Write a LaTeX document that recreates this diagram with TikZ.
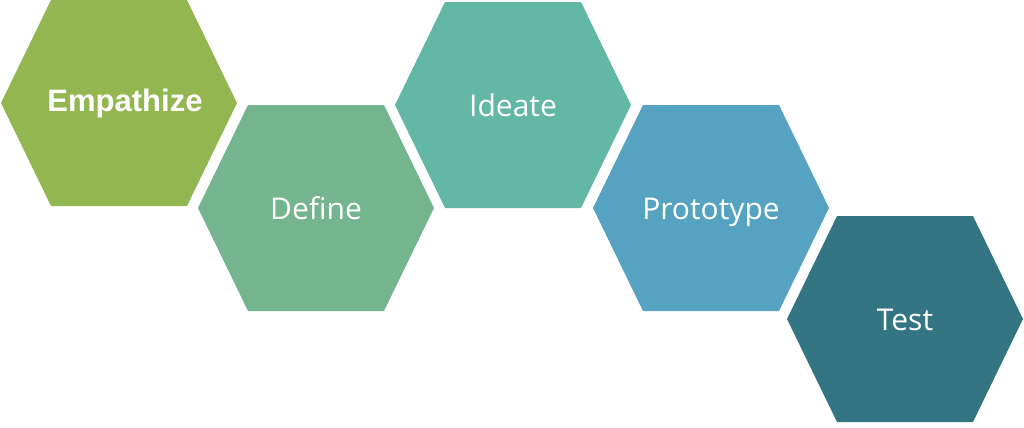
\documentclass[tikz,border=0pt]{standalone}
\usepackage{fontspec}
\setmainfont{Open Sans}
\newfontfamily\empfont{Liberation Sans}
\usetikzlibrary{positioning}
\definecolor{empcol}{HTML}{93B750}
\definecolor{defcol}{HTML}{74B48E}
\definecolor{idecol}{HTML}{62B7A5}
\definecolor{procol}{HTML}{55A3C0}
\definecolor{tstcol}{HTML}{337583}

\begin{document}
\begin{tikzpicture}[x=.5pt,y=-.5pt,
  phase/.style={text=white,anchor=base,yshift=-5.5pt,font=\fontsize{15}{18}\selectfont}]
\useasboundingbox (0,0) rectangle (1024,428);
% hexagons, centre x/y in pixels
\foreach \n/\x/\y/\c in {emp/119/103/empcol,def/316/208/defcol,ide/513/105/idecol,pro/711/208/procol,tst/905/319/tstcol}{
  \fill[\c] (\x-118,\y)--(\x-68,\y-103)--(\x+68,\y-103)--(\x+118,\y)--(\x+68,\y+103)--(\x-68,\y+103)--cycle;
  \coordinate (\n) at (\x,\y);
}
\node[phase,font=\empfont\bfseries\fontsize{15.5}{18}\selectfont,xshift=3pt,yshift=1pt] (empathize) at (emp) {Empathize};
\node[phase] (define) at (def) {Define};
\node[phase] (ideate) at (ide) {Ideate};
\node[phase] (prototype) at (pro) {Prototype};
\node[phase] (test) at (tst) {Test};
\end{tikzpicture}
\end{document}
